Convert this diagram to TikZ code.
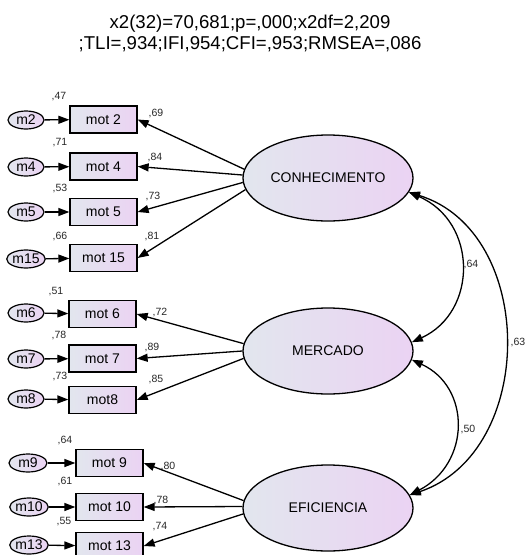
\documentclass[tikz,border=0pt]{standalone}
\usepackage{fontspec}
\setmainfont{Liberation Sans}
\usetikzlibrary{arrows.meta,shapes.geometric}
\definecolor{fillL}{HTML}{E2E6EE}
\definecolor{fillR}{HTML}{EBD3F3}
\tikzset{
  lat/.style={ellipse, draw, line width=1.3pt, left color=fillL, right color=fillR,
    minimum width=170pt, minimum height=86pt, inner sep=0pt, font=\fontsize{14}{16}\selectfont},
  obs/.style={rectangle, draw, line width=1.3pt, left color=fillL, right color=fillR,
    minimum width=67pt, minimum height=27pt, inner sep=0pt, font=\fontsize{14}{16}\selectfont},
  err/.style={ellipse, draw, line width=1.2pt, left color=fillL, right color=fillR,
    minimum width=36pt, minimum height=18pt, inner sep=0pt, font=\fontsize{14}{16}\selectfont},
  arr/.style={line width=1.3pt, -{Triangle[length=11pt,width=8pt]}},
  cov/.style={line width=1.3pt, {Triangle[length=11pt,width=8pt]}-{Triangle[length=11pt,width=8pt]}},
  val/.style={font=\fontsize{10.5}{12}\selectfont, inner sep=0pt, text=black!85},
  title/.style={align=center, font=\fontsize{18.6}{21}\selectfont, inner sep=0pt}
}
\begin{document}
\begin{tikzpicture}[x=1pt,y=-1pt]
\useasboundingbox (0,0) rectangle (526,555);
\node[title] (t) at (250,33) {x2(32)=70,681;p=,000;x2df=2,209\\;TLI=,934;IFI,954;CFI=,953;RMSEA=,086};

% latent
\node[lat] (C) at (328,178) {CONHECIMENTO};
\node[lat] (M) at (328,351) {MERCADO};
\node[lat] (E) at (328,508) {EFICIENCIA};

% observed
\node[obs] (o2) at (103.5,119.5) {mot 2};
\node[obs] (o4) at (103.5,166.5) {mot 4};
\node[obs] (o5) at (103.5,212) {mot 5};
\node[obs] (o15) at (103.5,258) {mot 15};
\node[obs] (o6) at (102.5,314) {mot 6};
\node[obs] (o7) at (102.5,358.5) {mot 7};
\node[obs] (o8) at (102.5,400) {mot8};
\node[obs] (o9) at (109.5,463) {mot 9};
\node[obs] (o10) at (109.5,507) {mot 10};
\node[obs] (o13) at (109.5,546) {mot 13};

% errors
\node[err] (m2) at (26,120) {m2};
\node[err] (m4) at (26,167) {m4};
\node[err] (m5) at (26,212) {m5};
\node[err] (m15) at (26,259) {m15};
\node[err] (m6) at (26,313) {m6};
\node[err] (m7) at (26,359) {m7};
\node[err] (m8) at (26,399) {m8};
\node[err, minimum width=38pt] (m9) at (28,463) {m9};
\node[err, minimum width=38pt] (m10) at (29,507) {m10};
\node[err, minimum width=38pt] (m13) at (29,545) {m13};

% error arrows
\foreach \e/\o in {m2/o2,m4/o4,m5/o5,m15/o15,m6/o6,m7/o7,m8/o8,m9/o9,m10/o10,m13/o13}
  \draw[arr] (\e) -- (\o);

% loadings
\draw[arr] (C.174) -- (o2.east);
\draw[arr] (C.178) -- (o4.east);
\draw[arr] (C.183) -- (o5.east);
\draw[arr] (C.188) -- (o15.east);
\draw[arr] (M.175) -- (o6.east);
\draw[arr] (M.180) -- (o7.east);
\draw[arr] (M.185) -- (o8.east);
\draw[arr] (E.175) -- (o9.east);
\draw[arr] (E.179) -- (o10.east);
\draw[arr] (E.184) -- (o13.east);

% covariances
\draw[cov] (C.-10) .. controls (478,222) and (478,312) .. (M.6);
\draw[cov] (M.-6) .. controls (471,387) and (471,463) .. (E.9);
\draw[cov] (C.-10) .. controls (537,232) and (537,452) .. (E.9);

% values
\node[val] (v47) at (59,97) {,47};
\node[val] (v69) at (156,114) {,69};
\node[val] (v71) at (60,143) {,71};
\node[val] (v84) at (155,158) {,84};
\node[val] (v53) at (60,189) {,53};
\node[val] (v73a) at (153,197) {,73};
\node[val] (v66) at (60,237) {,66};
\node[val] (v81) at (152,237) {,81};
\node[val] (v51) at (56,292) {,51};
\node[val] (v72) at (160,313) {,72};
\node[val] (v78a) at (59,336) {,78};
\node[val] (v89) at (152,348) {,89};
\node[val] (v73b) at (60,377) {,73};
\node[val] (v85) at (156,380) {,85};
\node[val] (v64) at (65,440) {,64};
\node[val] (v80) at (168,467) {,80};
\node[val] (v61) at (65,482) {,61};
\node[val] (v78b) at (161,500) {,78};
\node[val] (v55) at (64,522) {,55};
\node[val] (v74) at (160,527) {,74};
\node[val] (c64) at (471,265) {,64};
\node[val] (c50) at (468,430) {,50};
\node[val, anchor=east] (c63) at (525.5,343) {,63};
\end{tikzpicture}
\end{document}
